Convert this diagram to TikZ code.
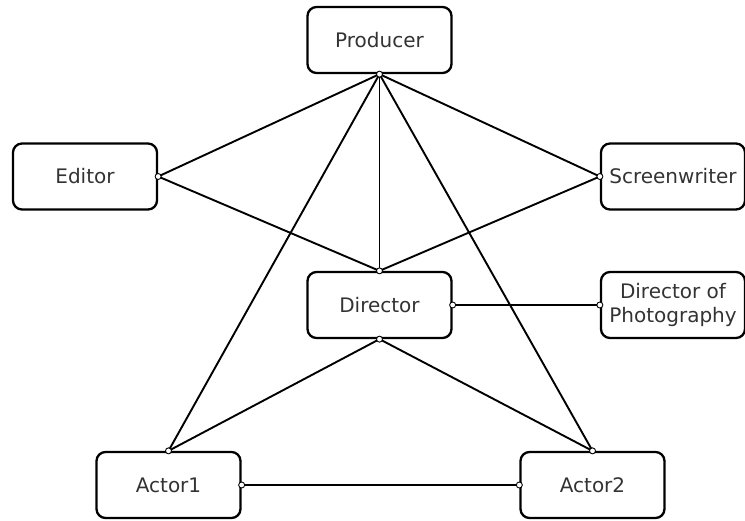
\documentclass[tikz,border=0pt]{standalone}
\usepackage{fontspec}
\setmainfont{DejaVu Sans}
\begin{document}
\begin{tikzpicture}[x=1pt,y=-1pt,
  box/.style={draw, line width=2.3pt, rounded corners=9pt, minimum width=144pt, minimum height=66pt, inner sep=0pt, align=center, font=\fontsize{20}{24}\selectfont, text=black!80},
  link/.style={line width=1.9pt},
  port/.style={circle, draw, line width=0.9pt, fill=white, inner sep=0pt, minimum size=6pt}]
\useasboundingbox (0,0) rectangle (745,520);
\node[box] (prod) at (379.5,40) {Producer};
\node[box] (edit) at (85,176.5) {Editor};
\node[box] (scr) at (673,176.5) {Screenwriter};
\node[box] (dir) at (379.5,305) {Director};
\node[box] (dop) at (673,305) {Director of\\Photography};
\node[box] (a1) at (168.5,485) {Actor1};
\node[box] (a2) at (592.5,485) {Actor2};
\coordinate (a1t) at (a1.north);
\coordinate (a2t) at (a2.north);
\draw[link] (prod.south) -- (edit.east);
\draw[link] (prod.south) -- (scr.west);
\draw[link] (prod.south) -- (dir.north);
\draw[link] (prod.south) -- (a1t);
\draw[link] (prod.south) -- (a2t);
\draw[link] (edit.east) -- (dir.north);
\draw[link] (scr.west) -- (dir.north);
\draw[link] (dir.east) -- (dop.west);
\draw[link] (dir.south) -- (a1t);
\draw[link] (dir.south) -- (a2t);
\draw[link] (a1.east) -- (a2.west);
\foreach \p in {prod.south, edit.east, scr.west, dir.north, dir.east, dir.south, dop.west, a1t, a2t, a1.east, a2.west}
  \node[port] at (\p) {};
\end{tikzpicture}
\end{document}
